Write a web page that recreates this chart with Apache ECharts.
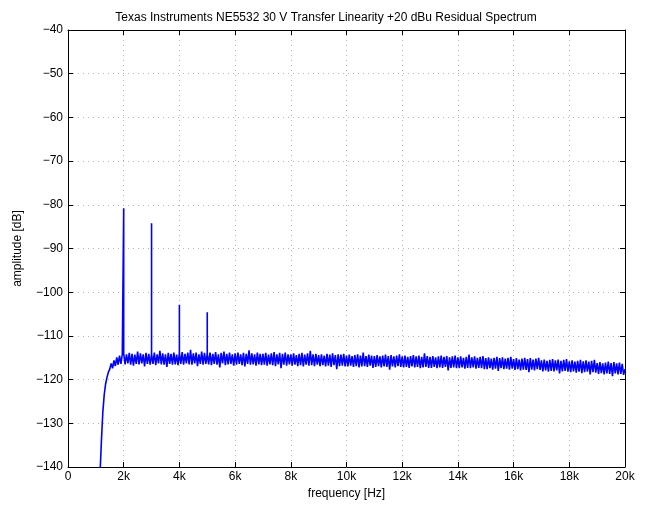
<!DOCTYPE html>
<html>
<head>
<meta charset="utf-8">
<script src="https://cdn.jsdelivr.net/npm/echarts@6/dist/echarts.min.js"></script>
<style>
  html, body { margin: 0; padding: 0; background: #fff; }
  #chart { width: 652px; height: 509px; }
</style>
</head>
<body>
<div id="chart"></div>
<script>
// roll-off below 2 kHz (Hz, dB)
const rollFreq = [1150, 1200, 1250, 1300, 1350, 1400, 1450, 1500, 1550, 1600, 1650, 1700, 1750, 1800, 1850, 1900, 1950];
const rollAmp = [-141.5, -134, -127.5, -123.5, -121, -119.5, -118.3, -117.6, -116.3, -117.4, -115.6, -116.9, -114.9, -116.6, -114.5, -116.4, -114.2];

// harmonic residuals
const peakFreq = [2000, 3000, 4000, 5000];
const peakAmp = [-80.8, -84.2, -102.9, -104.6];

// residual floor from 2 kHz to 20 kHz, 50 Hz bins, one row per kHz
const binStart = 2000;
const binStep = 50;
const floorAmp = [
  -114.0, -116.5, -114.2, -116.3, -113.9, -116.6, -114.1, -116.8, -114.3, -116.4, -113.6, -116.5, -114.0, -116.3, -114.2, -117.0, -113.9, -116.4, -114.1, -116.6,
  -114.1, -116.4, -113.8, -116.7, -114.2, -116.3, -113.4, -116.5, -114.0, -116.6, -114.2, -117.1, -113.9, -116.4, -114.1, -116.6, -113.8, -116.5, -114.3, -116.7,
  -113.9, -116.4, -113.7, -116.6, -114.1, -116.3, -113.8, -116.5, -113.2, -116.6, -114.0, -116.3, -113.8, -116.9, -114.2, -116.4, -113.6, -116.6, -113.9, -116.4,
  -114.0, -116.5, -113.8, -116.7, -114.1, -116.4, -113.7, -116.6, -114.2, -117.2, -113.9, -116.3, -113.6, -116.7, -114.1, -116.5, -113.8, -116.4, -114.2, -116.8,
  -114.0, -116.6, -113.8, -116.4, -114.2, -116.7, -113.9, -117.0, -114.1, -116.4, -113.3, -116.6, -114.0, -116.5, -114.2, -116.8, -113.8, -116.5, -114.1, -116.7,
  -114.1, -116.6, -113.9, -116.8, -114.3, -116.5, -114.0, -116.7, -113.7, -116.9, -114.2, -116.5, -113.9, -117.4, -114.1, -116.6, -113.8, -116.8, -114.2, -116.5,
  -114.2, -116.8, -114.0, -116.6, -114.4, -116.9, -114.1, -116.7, -113.9, -117.0, -114.3, -116.6, -114.0, -116.8, -113.4, -116.7, -114.2, -116.9, -114.1, -116.6,
  -114.4, -116.9, -114.2, -116.7, -114.5, -117.0, -114.1, -116.8, -114.3, -117.1, -114.0, -116.7, -114.4, -117.6, -114.2, -116.9, -114.3, -116.8, -114.1, -117.0,
  -114.5, -117.0, -114.3, -116.8, -114.6, -117.1, -114.4, -116.9, -114.2, -117.2, -114.5, -117.0, -113.8, -116.9, -114.6, -117.1, -114.3, -116.8, -114.5, -117.3,
  -114.6, -117.1, -114.4, -116.9, -114.7, -117.2, -114.5, -117.0, -114.3, -117.1, -114.6, -117.7, -114.4, -117.0, -114.7, -117.2, -114.5, -116.9, -114.2, -117.1,
  -114.7, -117.2, -114.5, -117.1, -114.8, -117.3, -114.6, -117.0, -114.4, -117.2, -114.7, -117.1, -114.5, -117.4, -114.8, -117.2, -114.0, -117.1, -114.6, -117.3,
  -114.8, -117.3, -114.6, -117.1, -114.9, -117.4, -114.7, -117.2, -114.5, -117.3, -114.8, -117.1, -114.6, -117.9, -114.9, -117.3, -114.7, -117.2, -114.5, -117.4,
  -114.9, -117.4, -114.7, -117.2, -115.0, -117.5, -114.8, -117.3, -114.3, -117.4, -114.9, -117.2, -114.7, -117.5, -115.0, -117.3, -114.8, -117.4, -114.6, -117.6,
  -115.1, -117.6, -114.9, -117.4, -115.2, -117.7, -115.0, -117.5, -114.8, -118.0, -115.1, -117.4, -114.9, -117.6, -115.2, -117.5, -115.0, -117.7, -114.8, -117.5,
  -115.3, -117.8, -115.1, -117.6, -115.4, -117.9, -115.2, -117.7, -115.0, -117.8, -115.3, -118.3, -115.1, -117.7, -115.4, -117.9, -115.2, -117.6, -115.0, -117.8,
  -115.6, -118.1, -115.4, -117.9, -115.7, -118.2, -115.5, -118.0, -115.3, -118.1, -115.6, -117.9, -115.4, -118.6, -115.7, -118.1, -115.5, -118.0, -115.3, -118.2,
  -115.8, -118.3, -115.6, -118.1, -115.9, -118.4, -115.7, -118.2, -115.5, -118.5, -115.8, -118.3, -115.6, -118.2, -115.9, -118.8, -115.7, -118.3, -115.5, -118.4,
  -116.2, -118.7, -116.0, -118.5, -116.3, -118.8, -116.1, -118.6, -115.9, -118.7, -116.2, -119.2, -116.0, -118.6, -116.3, -118.8, -116.1, -118.7, -116.4, -118.9,
  -117.6
];

const xTicks = [0, 2000, 4000, 6000, 8000, 10000, 12000, 14000, 16000, 18000, 20000];
const yTicks = [-140, -130, -120, -110, -100, -90, -80, -70, -60, -50, -40];

// assemble the trace: roll-off, then floor bins with the harmonics drawn as vertical spikes
const points = rollFreq.map((f, i) => [f, rollAmp[i]]);
floorAmp.forEach((a, i) => {
  const f = binStart + i * binStep;
  const k = peakFreq.indexOf(f);
  if (k >= 0) {
    points.push([f, a], [f, peakAmp[k]], [f, a]);
  } else {
    points.push([f, a]);
  }
});

const font = '"Liberation Sans", Arial, sans-serif';
const minus = v => String(v).replace('-', '\u2212');

const chart = echarts.init(document.getElementById('chart'), null, { renderer: 'canvas' });

const gridLine = { show: true, lineStyle: { color: '#b4b4b4', type: [1, 4], width: 1 } };
const tickIn = { show: true, inside: true, length: 5, lineStyle: { color: '#000' } };

chart.setOption({
  backgroundColor: '#fff',
  animation: false,
  title: {
    text: 'Texas Instruments NE5532 30 V Transfer Linearity +20 dBu Residual Spectrum',
    left: 'center',
    top: 7,
    textStyle: { fontFamily: font, fontSize: 12, fontWeight: 'normal', color: '#000' }
  },
  grid: { left: 68, right: 27, top: 30, bottom: 42, show: false },
  xAxis: [{
    type: 'value', min: xTicks[0], max: xTicks[xTicks.length - 1], interval: 2000,
    name: 'frequency [Hz]', nameLocation: 'middle', nameGap: 21,
    nameTextStyle: { fontFamily: font, fontSize: 12, color: '#000' },
    axisLine: { show: true, onZero: false, lineStyle: { color: '#000', width: 1 } },
    axisTick: tickIn,
    axisLabel: { fontFamily: font, fontSize: 12, color: '#000', margin: 4,
      formatter: v => v === 0 ? '0' : (v / 1000) + 'k' },
    splitLine: gridLine
  }, {
    type: 'value', min: xTicks[0], max: xTicks[xTicks.length - 1], interval: 2000, position: 'top',
    axisLine: { show: true, onZero: false, lineStyle: { color: '#000', width: 1 } },
    axisTick: tickIn, axisLabel: { show: false }, splitLine: { show: false }
  }],
  yAxis: [{
    type: 'value', min: yTicks[0], max: yTicks[yTicks.length - 1], interval: 10,
    name: 'amplitude [dB]', nameLocation: 'middle', nameGap: 44, nameRotate: 90,
    nameTextStyle: { fontFamily: font, fontSize: 12, color: '#000' },
    axisLine: { show: true, onZero: false, lineStyle: { color: '#000', width: 1 } },
    axisTick: tickIn,
    axisLabel: { fontFamily: font, fontSize: 12, color: '#000', margin: 5, formatter: minus },
    splitLine: gridLine
  }, {
    type: 'value', min: yTicks[0], max: yTicks[yTicks.length - 1], interval: 10, position: 'right',
    axisLine: { show: true, onZero: false, lineStyle: { color: '#000', width: 1 } },
    axisTick: tickIn, axisLabel: { show: false }, splitLine: { show: false }
  }],
  series: [{
    type: 'line',
    data: points,
    showSymbol: false,
    clip: true,
    lineStyle: { color: '#0000ff', width: 1.6 },
    emphasis: { disabled: true }
  }]
});
</script>
</body>
</html>
